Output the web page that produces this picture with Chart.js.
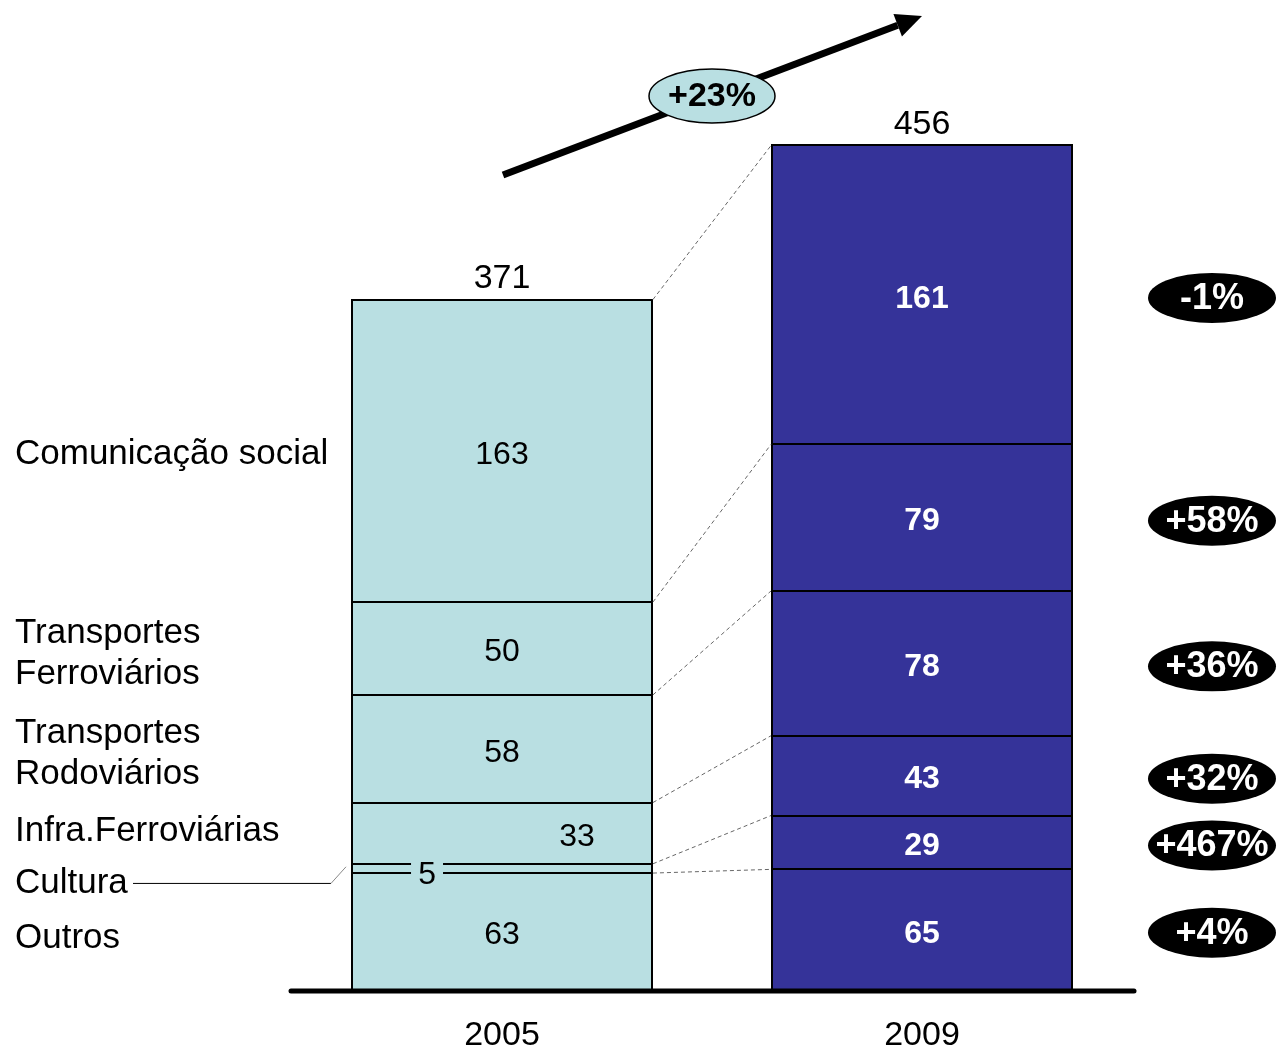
<!DOCTYPE html>
<html>
<head>
<meta charset="utf-8">
<title>Investimento por sector 2005-2009</title>
<script src="https://cdn.jsdelivr.net/npm/chart.js@4.4.0/dist/chart.umd.min.js"></script>
<style>
  body { margin: 0; background: #fff; }
  canvas { display: block; }
</style>
</head>
<body>
<canvas id="canvas" width="1281" height="1057"></canvas>
<script>
// sectors from the bottom of the stack upwards
var years = ['2005', '2009'];
var sectors = ['Outros', 'Cultura', 'Infra.Ferroviárias', 'Transportes Rodoviários', 'Transportes Ferroviários', 'Comunicação social'];
var values2005 = [63, 5, 33, 58, 50, 163];
var values2009 = [65, 29, 43, 78, 79, 161];
var totals = [371, 456];
var changes = ['+4%', '+467%', '+32%', '+36%', '+58%', '-1%'];
var growth = '+23%';

var LIGHT = '#B9DFE2';
var DARK = '#353399';
var FONT = "'Liberation Sans', Arial, sans-serif";

var datasets = sectors.map(function (name, i) {
    return {
        label: name,
        data: [values2005[i], values2009[i]],
        backgroundColor: [LIGHT, DARK],
        borderWidth: 0,
        categoryPercentage: 1,
        barPercentage: 0.714
    };
});

// left-hand labels, split over lines, with small nudges off the segment centre
var sideLabels = [
    { lines: ['Outros'], dy: 4 },
    { lines: ['Cultura'], dy: 12 },
    { lines: ['Infra.Ferroviárias'], dy: -5 },
    { lines: ['Transportes', 'Rodoviários'], dy: 2 },
    { lines: ['Transportes', 'Ferroviários'], dy: 2 },
    { lines: ['Comunicação social'], dy: 1 }
];

// middle baseline sits a little above the visual centre of the glyphs
var TY = 3;

function text(ctx, str, x, y, size, bold, color, align) {
    ctx.font = (bold ? 'bold ' : '') + size + 'px ' + FONT;
    ctx.fillStyle = color;
    ctx.textAlign = align || 'center';
    ctx.textBaseline = 'middle';
    ctx.fillText(str, x, y + TY);
}

function ellipse(ctx, cx, cy, rx, ry, fill, stroke) {
    ctx.beginPath();
    ctx.ellipse(cx, cy, rx, ry, 0, 0, Math.PI * 2);
    ctx.fillStyle = fill;
    ctx.fill();
    if (stroke) {
        ctx.lineWidth = 1.5;
        ctx.strokeStyle = stroke;
        ctx.stroke();
    }
}

var decor = {
    id: 'decor',
    afterDatasetsDraw: function (chart) {
        var ctx = chart.ctx;
        var area = chart.chartArea;
        ctx.save();

        // crisp outlines round every segment
        ctx.lineWidth = 2;
        ctx.strokeStyle = '#000';
        sectors.forEach(function (s, i) {
            chart.getDatasetMeta(i).data.forEach(function (bar) {
                var l = Math.round(bar.x - bar.width / 2);
                var t = Math.round(bar.y);
                ctx.strokeRect(l, t, Math.round(bar.width), Math.round(bar.base) - t);
            });
        });

        // dashed links between the tops of matching segments
        ctx.setLineDash([4, 3]);
        ctx.lineWidth = 1;
        ctx.strokeStyle = '#666';
        sectors.forEach(function (s, i) {
            var a = chart.getDatasetMeta(i).data[0];
            var b = chart.getDatasetMeta(i).data[1];
            ctx.beginPath();
            ctx.moveTo(a.x + a.width / 2 + 1, a.y);
            ctx.lineTo(b.x - b.width / 2 - 1, b.y);
            ctx.stroke();
        });
        ctx.setLineDash([]);

        // values inside the segments
        sectors.forEach(function (s, i) {
            var a = chart.getDatasetMeta(i).data[0];
            var b = chart.getDatasetMeta(i).data[1];
            var ya = (a.y + a.base) / 2 + 1;
            var yb = (b.y + b.base) / 2 + 1;
            var xa = a.x;
            if (s === 'Cultura') {
                xa = a.x - a.width / 4;
                ctx.fillStyle = LIGHT;
                ctx.fillRect(xa - 16, ya - 9, 32, 16);
                ya += 3;
            } else if (s === 'Infra.Ferroviárias') {
                xa = a.x + a.width / 4;
            }
            text(ctx, String(values2005[i]), xa, ya, 32, false, '#000');
            text(ctx, String(values2009[i]), b.x, yb, 32, true, '#fff');

            // side label
            var lab = sideLabels[i];
            var cy = (a.y + a.base) / 2 + lab.dy;
            var lh = 41;
            var y0 = cy - (lab.lines.length - 1) * lh / 2;
            lab.lines.forEach(function (ln, k) {
                text(ctx, ln, 15, y0 + k * lh, 35, false, '#000', 'left');
            });
            if (s === 'Cultura') {
                ctx.lineWidth = 1;
                ctx.strokeStyle = '#000';
                ctx.beginPath();
                ctx.moveTo(133, cy + TY);
                ctx.lineTo(331, cy + TY);
                ctx.stroke();
                ctx.strokeStyle = '#888';
                ctx.beginPath();
                ctx.moveTo(331, cy + TY);
                ctx.lineTo(346, a.y + 3);
                ctx.stroke();
            }

            // change ellipse on the right
            ellipse(ctx, 1212, yb + 2, 64, 25, '#000');
            text(ctx, changes[i], 1212, yb, 36, true, '#fff');
        });

        // totals above each bar
        var last = chart.getDatasetMeta(sectors.length - 1).data;
        last.forEach(function (bar, j) {
            text(ctx, String(totals[j]), bar.x, bar.y - 24, 34, false, '#000');
        });

        // baseline and year labels
        ctx.lineCap = 'round';
        ctx.lineWidth = 5;
        ctx.strokeStyle = '#000';
        ctx.beginPath();
        ctx.moveTo(area.left - 1, area.bottom + 1);
        ctx.lineTo(area.right + 2, area.bottom + 1);
        ctx.stroke();
        years.forEach(function (yr, j) {
            text(ctx, yr, chart.scales.x.getPixelForValue(j), area.bottom + 43, 34, false, '#000');
        });

        // growth arrow
        var x1 = 503, y1 = 175, x2 = 922, y2 = 16;
        var ang = Math.atan2(y2 - y1, x2 - x1);
        var hl = 26, hw = 12;
        var bx = x2 - hl * Math.cos(ang), by = y2 - hl * Math.sin(ang);
        ctx.lineCap = 'butt';
        ctx.lineWidth = 7;
        ctx.beginPath();
        ctx.moveTo(x1, y1);
        ctx.lineTo(bx, by);
        ctx.stroke();
        ctx.fillStyle = '#000';
        ctx.beginPath();
        ctx.moveTo(x2, y2);
        ctx.lineTo(bx + hw * Math.sin(ang), by - hw * Math.cos(ang));
        ctx.lineTo(bx - hw * Math.sin(ang), by + hw * Math.cos(ang));
        ctx.closePath();
        ctx.fill();
        ellipse(ctx, 712, 96, 63, 27, LIGHT, '#000');
        text(ctx, growth, 712, 94, 34, true, '#000');

        ctx.restore();
    }
};

window.onload = function () {
    var ctx = document.getElementById('canvas').getContext('2d');
    window.myBar = new Chart(ctx, {
        type: 'bar',
        data: { labels: years, datasets: datasets },
        options: {
            responsive: false,
            animation: false,
            layout: { padding: { left: 292, right: 149, top: 10, bottom: 67 } },
            scales: {
                x: { stacked: true, display: false },
                y: { stacked: true, display: false, min: 0, max: 528 }
            },
            plugins: {
                legend: { display: false },
                tooltip: { enabled: false }
            }
        },
        plugins: [decor]
    });
};
</script>
</body>
</html>
